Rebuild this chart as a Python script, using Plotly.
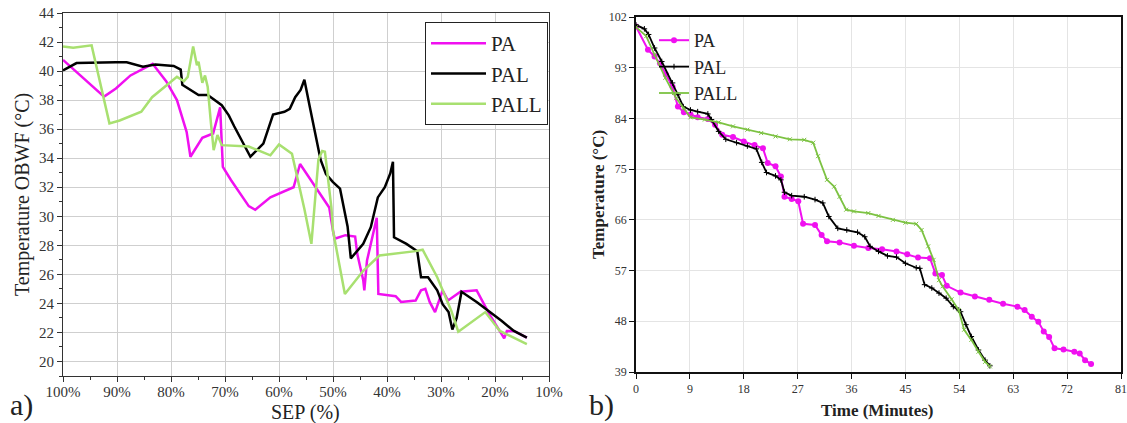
import plotly.graph_objects as go

# ---------- Panel a) data ----------
pa_sep = [100, 92.4, 90.2, 87.5, 83.4, 80.9, 78.9, 77.1, 76.4, 74.2, 72.2, 70.9, 70.4, 68.9, 65.6, 64.4,
          61.6, 57.3, 56.1, 50.7, 50.0, 49.7, 47.7, 45.9, 45.5, 44.4, 44.2, 43.7, 41.9, 41.6, 38.4, 37.4,
          34.7, 33.7, 32.9, 32.1, 31.1, 29.7, 28.7, 26.4, 23.4, 21.1, 18.8, 18.3, 17.8, 16.5, 14.1]
pa_temp = [40.77, 38.24, 38.8, 39.7, 40.5, 39.3, 38.0, 35.8, 34.1, 35.4, 35.7, 37.5, 33.4, 32.5, 30.7, 30.45,
           31.3, 32.0, 33.6, 30.6, 29.0, 28.45, 28.7, 28.6, 27.4, 25.6, 24.9, 26.95, 29.9, 24.65, 24.5, 24.1,
           24.2, 24.9, 25.0, 24.1, 23.4, 24.9, 24.2, 24.8, 24.9, 23.3, 21.9, 21.6, 22.1, 22.1, 21.65]

pal_sep = [100, 97.5, 90.2, 88.2, 85.2, 82.9, 79.5, 78.2, 77.9, 76.9, 74.9, 73.2, 72.2, 70.6, 69.3, 68.3,
           65.3, 62.9, 61.1, 59.0, 58.0, 57.0, 56.0, 55.3, 54.3, 52.3, 51.3, 50.0, 48.7, 48.0, 47.3, 46.7,
           44.4, 43.0, 41.7, 40.4, 39.4, 38.9, 38.7, 36.4, 34.4, 33.7, 32.4, 30.7, 29.7, 28.6, 27.9, 27.1,
           26.2, 23.4, 20.5, 18.8, 16.5, 14.1]
pal_temp = [40.04, 40.55, 40.6, 40.6, 40.3, 40.45, 40.35, 40.1, 39.05, 38.8, 38.35, 38.35, 38.1, 37.65, 36.95, 36.2,
            34.1, 35.0, 37.0, 37.2, 37.4, 38.2, 38.7, 39.4, 37.55, 33.9, 32.9, 32.35, 31.9, 30.6, 29.3, 27.1,
            28.1, 29.25, 31.3, 32.0, 32.95, 33.75, 28.55, 28.1, 27.6, 25.8, 25.8, 24.9, 23.95, 23.4, 22.2, 23.0,
            24.8, 24.1, 23.3, 22.8, 22.1, 21.65]

pall_sep = [100, 98.1, 94.7, 91.4, 89.5, 85.5, 83.5, 78.9, 77.6, 76.9, 75.9, 75.2, 74.9, 74.2, 73.7, 73.2,
            72.6, 72.1, 71.4, 70.6, 65.6, 61.6, 60.0, 57.6, 55.3, 54.0, 52.7, 52.0, 51.5, 50.3, 50.0, 47.8,
            44.4, 41.4, 34.7, 33.4, 30.7, 28.1, 26.8, 21.8, 19.1, 14.1]
pall_temp = [41.7, 41.6, 41.77, 36.4, 36.6, 37.2, 38.2, 39.6, 39.3, 39.6, 41.7, 40.4, 40.65, 39.2, 39.7, 38.9,
             36.4, 34.55, 35.6, 34.9, 34.8, 34.2, 34.95, 34.3, 30.5, 28.1, 33.9, 34.5, 34.45, 30.6, 29.0, 24.65,
             26.25, 27.3, 27.6, 27.7, 25.8, 23.5, 22.05, 23.4, 22.1, 21.2]

sep_ticks = [100, 90, 80, 70, 60, 50, 40, 30, 20, 10]
sep_labels = ["100%", "90%", "80%", "70%", "60%", "50%", "40%", "30%", "20%", "10%"]

# ---------- Panel b) data ----------
pa_t = [0, 2.0, 3.1, 4.0, 5.0, 6.1, 7.0, 8.0, 9.1, 10.3, 12.0, 13.2, 14.4, 16.2, 18.0, 19.8, 21.2, 22.0,
        23.3, 24.2, 24.8, 26.0, 27.1, 27.9, 29.9, 31.0, 31.9, 34.0, 36.4, 38.8, 41.1, 43.5, 45.3, 47.1,
        49.1, 50.0, 51.1, 51.9, 54.2, 56.6, 59.0, 61.3, 63.7, 64.9, 66.1, 67.2, 68.1, 69.0, 69.9, 71.4,
        73.2, 74.1, 75.0, 76.0]
pa_T = [100.3, 96.2, 95.0, 93.8, 91.8, 89.6, 86.1, 85.1, 84.7, 84.2, 83.9, 82.9, 81.1, 80.7, 79.9, 79.3, 78.7, 76.1,
        75.5, 73.7, 70.1, 69.7, 69.3, 65.3, 65.1, 63.3, 62.2, 62.0, 61.4, 61.0, 60.8, 60.4, 59.9, 59.3,
        59.2, 56.5, 56.2, 54.3, 53.1, 52.4, 51.8, 51.1, 50.6, 50.0, 48.8, 47.9, 46.2, 45.2, 43.2, 43.0,
        42.6, 42.3, 41.1, 40.4]

pal_t = [0, 1.4, 2.1, 3.1, 4.3, 6.1, 7.0, 7.9, 9.1, 10.3, 12.0, 12.6, 13.8, 15.0, 16.8, 18.6, 20.1, 21.0,
         21.8, 23.3, 24.2, 24.8, 26.0, 28.1, 29.9, 31.2, 32.2, 33.7, 35.2, 37.0, 38.2, 39.1, 40.5, 42.0,
         43.5, 45.0, 46.8, 47.4, 48.2, 49.4, 50.6, 51.8, 53.0, 53.9, 54.2, 55.1, 56.0, 57.2, 58.3, 59.1]
pal_T = [100.6, 99.9, 98.9, 96.5, 94.1, 90.3, 88.2, 86.1, 85.5, 85.2, 84.8, 83.8, 81.7, 80.3, 79.7, 79.1, 78.6, 76.2,
         74.4, 73.8, 73.1, 70.9, 70.3, 70.1, 69.6, 69.0, 66.6, 64.5, 64.2, 63.8, 63.0, 61.3, 60.4, 59.6,
         59.4, 58.3, 57.5, 57.4, 54.5, 53.9, 53.0, 52.1, 50.6, 50.0, 49.7, 47.4, 45.3, 42.9, 41.1, 40.1]

pall_t = [0, 1.7, 3.1, 4.9, 6.7, 7.9, 9.1, 11.5, 13.8, 16.2, 18.6, 20.9, 23.3, 25.7, 28.1, 29.6, 30.4, 31.9,
          33.1, 34.0, 35.1, 36.4, 38.8, 40.5, 42.9, 45.0, 46.8, 47.7, 48.8, 49.7, 50.6, 51.2, 52.7, 53.9,
          54.8, 56.0, 57.2, 58.3, 59.1]
pall_T = [100.2, 98.6, 95.3, 91.2, 87.6, 85.8, 84.2, 83.8, 83.3, 82.6, 82.0, 81.4, 80.8, 80.3, 80.2, 79.7, 77.3, 73.1,
          71.9, 70.1, 67.8, 67.5, 67.2, 66.7, 66.0, 65.5, 65.3, 64.2, 61.3, 58.9, 55.3, 54.2, 51.9, 50.0,
          46.5, 44.7, 42.6, 40.8, 40.0]

time_ticks = [0, 9, 18, 27, 36, 45, 54, 63, 72, 81]
temp_ticks_b = [39, 48, 57, 66, 75, 84, 93, 102]

W, H = 1127, 423
SERIF = "Liberation Serif"
MAG = "#f010f0"
GRN_A = "#a8e070"
GRN_B = "#7cc242"

fig = go.Figure()

# Panel a)
fig.add_trace(go.Scatter(x=pa_sep, y=pa_temp, mode="lines", name="PA",
                         line=dict(color=MAG, width=2.5), xaxis="x", yaxis="y", legend="legend"))
fig.add_trace(go.Scatter(x=pal_sep, y=pal_temp, mode="lines", name="PAL",
                         line=dict(color="#000000", width=2.5), xaxis="x", yaxis="y", legend="legend"))
fig.add_trace(go.Scatter(x=pall_sep, y=pall_temp, mode="lines", name="PALL",
                         line=dict(color=GRN_A, width=2.5), xaxis="x", yaxis="y", legend="legend"))

# Panel b)
fig.add_trace(go.Scatter(x=pa_t, y=pa_T, mode="lines+markers", name="PA",
                         line=dict(color=MAG, width=2), marker=dict(color=MAG, size=6, symbol="circle"),
                         xaxis="x2", yaxis="y2", legend="legend2"))
fig.add_trace(go.Scatter(x=pal_t, y=pal_T, mode="lines+markers", name="PAL",
                         line=dict(color="#000000", width=1.8), marker=dict(color="#000000", size=4, symbol="cross-thin",
                                                                             line=dict(color="#000000", width=1)),
                         xaxis="x2", yaxis="y2", legend="legend2"))
fig.add_trace(go.Scatter(x=pall_t, y=pall_T, mode="lines+markers", name="PALL",
                         line=dict(color=GRN_B, width=1.8), marker=dict(color=GRN_B, size=4, symbol="x-thin",
                                                                         line=dict(color=GRN_B, width=1)),
                         xaxis="x2", yaxis="y2", legend="legend2"))

def px(v):
    return v / W

def py(v):
    return 1 - v / H

def label(text, x, y, size, angle=0, xanchor="center"):
    return dict(text=text, x=px(x), y=py(y), xref="paper", yref="paper", xanchor=xanchor, yanchor="middle",
                textangle=angle, showarrow=False, font=dict(size=size, family=SERIF, color="#222222"))

fig.update_layout(
    width=W, height=H,
    margin=dict(l=0, r=0, t=0, b=0, autoexpand=False),
    paper_bgcolor="white", plot_bgcolor="white",
    font=dict(family=SERIF, color="#222222"),
    xaxis=dict(domain=[px(63), px(549)], range=[100, 10], tickmode="array", automargin=False,
               tickvals=sep_ticks, ticktext=sep_labels, showgrid=True, gridcolor="#cfcfcf", gridwidth=1.2,
               showline=True, linecolor="#333333", linewidth=1.2, mirror=True,
               ticks="outside", ticklen=5, tickcolor="#333333", ticklabelstandoff=-3,
               minor=dict(dtick=5, ticks="outside", ticklen=3, tickcolor="#333333", showgrid=False),
               tickfont=dict(size=15, family=SERIF, color="#333333"),
               zeroline=False, anchor="y"),
    yaxis=dict(domain=[py(376), py(13)], range=[19, 44], tickmode="linear", tick0=20, dtick=2, automargin=False,
               showgrid=True, gridcolor="#cfcfcf", gridwidth=1.2,
               showline=True, linecolor="#333333", linewidth=1.2, mirror=True,
               ticks="outside", ticklen=5, tickcolor="#333333",
               minor=dict(dtick=1, ticks="outside", ticklen=3, tickcolor="#333333", showgrid=False),
               tickfont=dict(size=15, family=SERIF, color="#333333"),
               zeroline=False, anchor="x"),
    xaxis2=dict(domain=[px(636), px(1121)], range=[0, 81], tickmode="array", tickvals=time_ticks, automargin=False,
                showgrid=True, gridcolor="#e4e4e4", gridwidth=1.2,
                showline=True, linecolor="#111111", linewidth=1.5, mirror=True,
                ticks="outside", ticklen=5, tickcolor="#111111",
                tickfont=dict(size=12, family=SERIF, color="#333333"),
                zeroline=False, anchor="y2"),
    yaxis2=dict(domain=[py(372), py(17)], range=[39, 102], tickmode="array", tickvals=temp_ticks_b, automargin=False,
                showgrid=True, gridcolor="#e4e4e4", gridwidth=1.2,
                showline=True, linecolor="#111111", linewidth=1.5, mirror=True,
                ticks="outside", ticklen=5, tickcolor="#111111",
                tickfont=dict(size=12, family=SERIF, color="#333333"),
                zeroline=False, anchor="x2"),
    legend=dict(x=px(548), y=py(22), xanchor="right", yanchor="top",
                bgcolor="white", bordercolor="#222222", borderwidth=1,
                font=dict(size=21, family=SERIF, color="#222222"), tracegroupgap=0, itemwidth=55),
    legend2=dict(x=px(654), y=py(22), xanchor="left", yanchor="top",
                 bgcolor="rgba(255,255,255,0)", borderwidth=0,
                 font=dict(size=18, family=SERIF, color="#222222"), tracegroupgap=0, itemwidth=30),
    showlegend=True,
    annotations=[
        label("Temperature OBWF (°C)", 22, 195, 20, angle=-90),
        label("SEP (%)", 306, 412, 20),
        label("a)", 8, 405, 30, xanchor="left"),
        label("<b>Temperature (°C)</b>", 598, 195, 17, angle=-90),
        label("<b>Time (Minutes)</b>", 878, 410, 17),
        label("b)", 587, 405, 30, xanchor="left"),
    ],
)

fig.write_html("out.html", config={"displayModeBar": False},
               post_script="document.body.style.margin='0';document.body.style.overflow='hidden';")
